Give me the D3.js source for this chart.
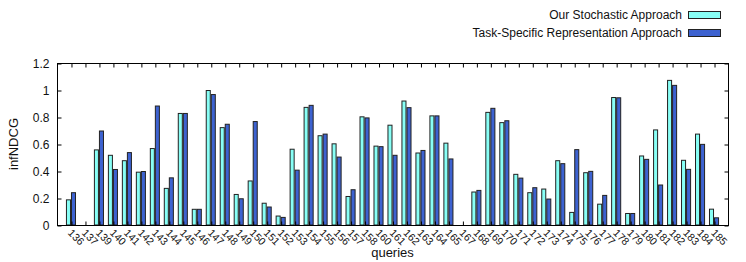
<!DOCTYPE html>
<html>
<head>
<meta charset="utf-8">
<script src="https://cdn.jsdelivr.net/npm/d3@7"></script>
<style>
  body { margin: 0; background: #fff; }
  svg { font-family: "Liberation Sans", Arial, sans-serif; }
</style>
</head>
<body>
<div id="chart"></div>
<script>
// query ids on the x axis
const queries = [
  "136", "137", "139", "140", "141", "142", "143", "144", "145", "146",
  "147", "148", "149", "150", "151", "152", "153", "154", "155", "156",
  "157", "158", "160", "161", "162", "163", "164", "165", "167", "168",
  "169", "170", "171", "172", "173", "174", "175", "176", "177", "178",
  "179", "180", "181", "182", "183", "184", "185"
];

// infNDCG per query
const stochastic = [
  0.19, 0, 0.56, 0.52, 0.48, 0.395, 0.57, 0.275, 0.83, 0.12,
  1.0, 0.725, 0.23, 0.33, 0.165, 0.07, 0.565, 0.875, 0.665, 0.605,
  0.215, 0.805, 0.588, 0.743, 0.922, 0.537, 0.812, 0.61, 0, 0.248,
  0.838, 0.762, 0.379, 0.243, 0.27, 0.48, 0.097, 0.391, 0.158, 0.948,
  0.089, 0.515, 0.708, 1.075, 0.483, 0.677, 0.121
];
const taskSpecific = [
  0.243, 0, 0.70, 0.415, 0.54, 0.40, 0.885, 0.353, 0.83, 0.12,
  0.97, 0.75, 0.198, 0.77, 0.137, 0.06, 0.41, 0.89, 0.677, 0.507,
  0.265, 0.797, 0.584, 0.52, 0.873, 0.556, 0.812, 0.493, 0, 0.26,
  0.868, 0.776, 0.351, 0.28, 0.196, 0.458, 0.562, 0.401, 0.223, 0.946,
  0.089, 0.49, 0.30, 1.038, 0.416, 0.601, 0.057
];

const seriesNames = ["Our Stochastic Approach", "Task-Specific Representation Approach"];
const seriesColors = ["#88fff6", "#3d62d0"];
const yTicks = [0, 0.2, 0.4, 0.6, 0.8, 1, 1.2];

const width = 746, height = 262;
const margin = { top: 63, right: 18, bottom: 37, left: 57 };
const innerWidth = width - margin.left - margin.right;
const innerHeight = height - margin.top - margin.bottom;

const svg = d3.select("#chart").append("svg")
  .attr("width", width)
  .attr("height", height);

const g = svg.append("g")
  .attr("transform", `translate(${margin.left},${margin.top})`);

// gnuplot histogram: one empty slot either side
const x = d3.scaleLinear().domain([-1, queries.length]).range([0, innerWidth]);
const slot = x(1) - x(0);
const barW = slot * 0.36;

const y = d3.scaleLinear().domain([0, 1.2]).range([innerHeight, 0]);

const rows = queries.map((q, i) => ({ q, i, vals: [stochastic[i], taskSpecific[i]] }));

// bars
rows.forEach((d) => {
  d.vals.forEach((v, s) => {
    if (!v) return;
    const x0 = x(d.i) - barW + s * barW;
    g.append("rect")
      .attr("x", x0 + 0.5)
      .attr("y", y(v) + 0.5)
      .attr("width", barW - 1)
      .attr("height", y(0) - y(v) - 0.5)
      .attr("fill", seriesColors[s])
      .attr("stroke", "#222")
      .attr("stroke-width", 1);
  });
});

// frame
g.append("rect")
  .attr("x", 0.5).attr("y", 0.5)
  .attr("width", innerWidth).attr("height", innerHeight)
  .attr("fill", "none").attr("stroke", "#000").attr("stroke-width", 1);

// y ticks, mirrored on the right
const yAxisL = d3.axisLeft(y).tickValues(yTicks).tickSize(-4).tickPadding(8).tickFormat(d3.format("~g"));
const yAxisR = d3.axisRight(y).tickValues(yTicks).tickSize(-4).tickFormat("");
g.append("g").attr("class", "yl").attr("transform", "translate(0.5,0.5)").call(yAxisL);
g.append("g").attr("class", "yr").attr("transform", `translate(${innerWidth + 0.5},0.5)`).call(yAxisR);

// x ticks, mirrored on top
const xTickVals = d3.range(queries.length);
const xAxisB = d3.axisBottom(x).tickValues(xTickVals).tickSize(-4).tickFormat("");
const xAxisT = d3.axisTop(x).tickValues(xTickVals).tickSize(-4).tickFormat("");
g.append("g").attr("class", "xb").attr("transform", `translate(0.5,${innerHeight + 0.5})`).call(xAxisB);
g.append("g").attr("class", "xt").attr("transform", "translate(0.5,0.5)").call(xAxisT);

g.selectAll(".domain").remove();
g.selectAll(".tick line").attr("stroke", "#000");
g.selectAll(".yl text").attr("font-size", 12).attr("fill", "#111");

// rotated query labels
g.selectAll(".qlabel")
  .data(rows)
  .enter()
  .append("text")
  .attr("class", "qlabel")
  .attr("transform", (d) => `translate(${x(d.i) - 1},${innerHeight + 6}) rotate(45)`)
  .attr("font-size", 10.5)
  .attr("fill", "#111")
  .attr("dy", "0.35em")
  .text((d) => d.q);

// axis titles
svg.append("text")
  .attr("transform", `translate(18,${margin.top + innerHeight / 2}) rotate(-90)`)
  .attr("text-anchor", "middle")
  .attr("font-size", 13)
  .attr("fill", "#111")
  .text("infNDCG");

svg.append("text")
  .attr("x", margin.left + innerWidth / 2)
  .attr("y", 257)
  .attr("text-anchor", "middle")
  .attr("font-size", 13)
  .attr("fill", "#111")
  .text("queries");

// legend
const legend = svg.append("g").attr("transform", "translate(688,11)");
seriesNames.forEach((name, s) => {
  const row = legend.append("g").attr("transform", `translate(0,${s * 18})`);
  row.append("rect")
    .attr("x", 0.5).attr("y", 0.5)
    .attr("width", 32).attr("height", 7)
    .attr("fill", seriesColors[s])
    .attr("stroke", "#222");
  row.append("text")
    .attr("x", -6).attr("y", 8)
    .attr("text-anchor", "end")
    .attr("font-size", 12)
    .attr("fill", "#111")
    .text(name);
});
</script>
</body>
</html>
